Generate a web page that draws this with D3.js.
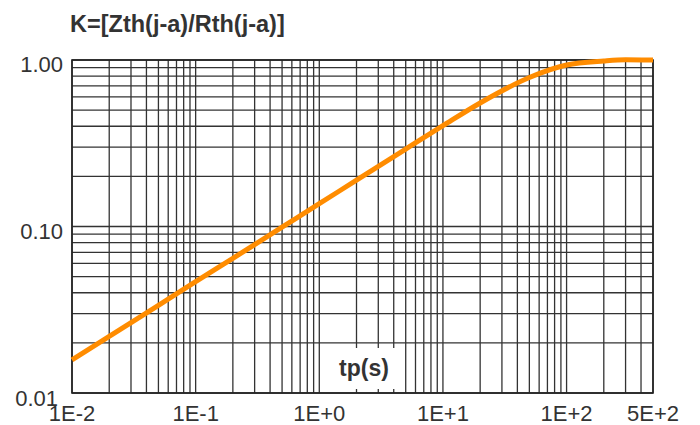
<!DOCTYPE html>
<html>
<head>
<meta charset="utf-8">
<script src="https://cdn.jsdelivr.net/npm/d3@7"></script>
<style>
  body { margin: 0; background: #fff; }
  svg { display: block; font-family: "Liberation Sans", Arial, sans-serif; }
</style>
</head>
<body>
<svg width="700" height="425"></svg>
<script>
const ORANGE = "#ff8c00";
const GRID = "#333";
const INK = "#333";

// curve
const tp = [0.01, 0.02, 0.05, 0.1, 0.2, 0.5, 1, 2, 5, 10, 20, 50, 100, 200, 300, 500];
const k = [0.0158, 0.0219, 0.0336, 0.0466, 0.0644, 0.099, 0.137, 0.190, 0.292, 0.403, 0.552, 0.785, 0.933, 0.986, 1.002, 1.0];

const xTicks = [0.01, 0.1, 1, 10, 100, 500];
const xTickLabels = ["1E-2", "1E-1", "1E+0", "1E+1", "1E+2", "5E+2"];
const yTicks = [1, 0.1, 0.01];
const yTickLabels = ["1.00", "0.10", "0.01"];

m = { top: 60, right: 47, bottom: 32, left: 72 };
w = 700 - m.left - m.right;
h = 425 - m.top - m.bottom;

var svg = d3.select("svg");

var x = d3.scaleLog().domain([0.01, 500]).range([m.left, m.left + w]);
var y = d3.scaleLog().domain([0.01, 1]).range([m.top + h, m.top]);

// log grid: 1..9 in every decade
var xGrid = [];
for (var d = -2; d <= 2; d++) {
    for (var i = 1; i <= 9; i++) {
        var v = i * Math.pow(10, d);
        if (v <= 500) xGrid.push(v);
    }
}
var yGrid = [];
for (var d = -2; d <= -1; d++) {
    for (var i = 1; i <= 9; i++) yGrid.push(i * Math.pow(10, d));
}
yGrid.push(1);

var grid = svg.append("g").attr("id", "grid");

grid.selectAll("line.v")
    .data(xGrid)
    .enter().append("line")
    .attr("class", "v")
    .attr("x1", d => x(d)).attr("x2", d => x(d))
    .attr("y1", y(1)).attr("y2", y(0.01))
    .attr("stroke", GRID)
    .attr("stroke-width", 1.3);

grid.selectAll("line.h")
    .data(yGrid)
    .enter().append("line")
    .attr("class", "h")
    .attr("y1", d => y(d)).attr("y2", d => y(d))
    .attr("x1", x(0.01)).attr("x2", x(500))
    .attr("stroke", GRID)
    .attr("stroke-width", 1.3);

// frame
svg.append("rect")
    .attr("x", x(0.01)).attr("y", y(1))
    .attr("width", x(500) - x(0.01))
    .attr("height", y(0.01) - y(1))
    .attr("fill", "none")
    .attr("stroke", "#222")
    .attr("stroke-width", 1.6);

// axis title box
svg.append("rect")
    .attr("x", 322).attr("y", 348)
    .attr("width", 73).attr("height", 41)
    .attr("fill", "#fff");

svg.append("text")
    .attr("x", 364).attr("y", 376)
    .attr("text-anchor", "middle")
    .attr("font-size", 23)
    .attr("font-weight", "bold")
    .attr("fill", INK)
    .text("tp(s)");

// the curve
var line = d3.line()
    .x(d => x(d[0]))
    .y(d => y(d[1]))
    .curve(d3.curveMonotoneX);

svg.append("path")
    .datum(d3.zip(tp, k))
    .attr("d", line)
    .attr("fill", "none")
    .attr("stroke", ORANGE)
    .attr("stroke-width", 5)
    .attr("stroke-linecap", "butt");

// tick labels
svg.selectAll("text.xl")
    .data(xTicks)
    .enter().append("text")
    .attr("class", "xl")
    .attr("x", d => x(d))
    .attr("y", y(0.01) + 28)
    .attr("text-anchor", "middle")
    .attr("font-size", 22)
    .attr("fill", INK)
    .text((d, i) => xTickLabels[i]);

svg.selectAll("text.yl")
    .data(yTicks)
    .enter().append("text")
    .attr("class", "yl")
    .attr("x", (d, i) => i == 2 ? 58 : 63)
    .attr("y", (d, i) => y(d) + (i == 2 ? 13 : 12))
    .attr("text-anchor", "end")
    .attr("font-size", 22)
    .attr("fill", INK)
    .text((d, i) => yTickLabels[i]);

// chart title
svg.append("text")
    .attr("x", 70).attr("y", 32)
    .attr("font-size", 23.5)
    .attr("font-weight", "bold")
    .attr("fill", INK)
    .text("K=[Zth(j-a)/Rth(j-a)]");
</script>
</body>
</html>
